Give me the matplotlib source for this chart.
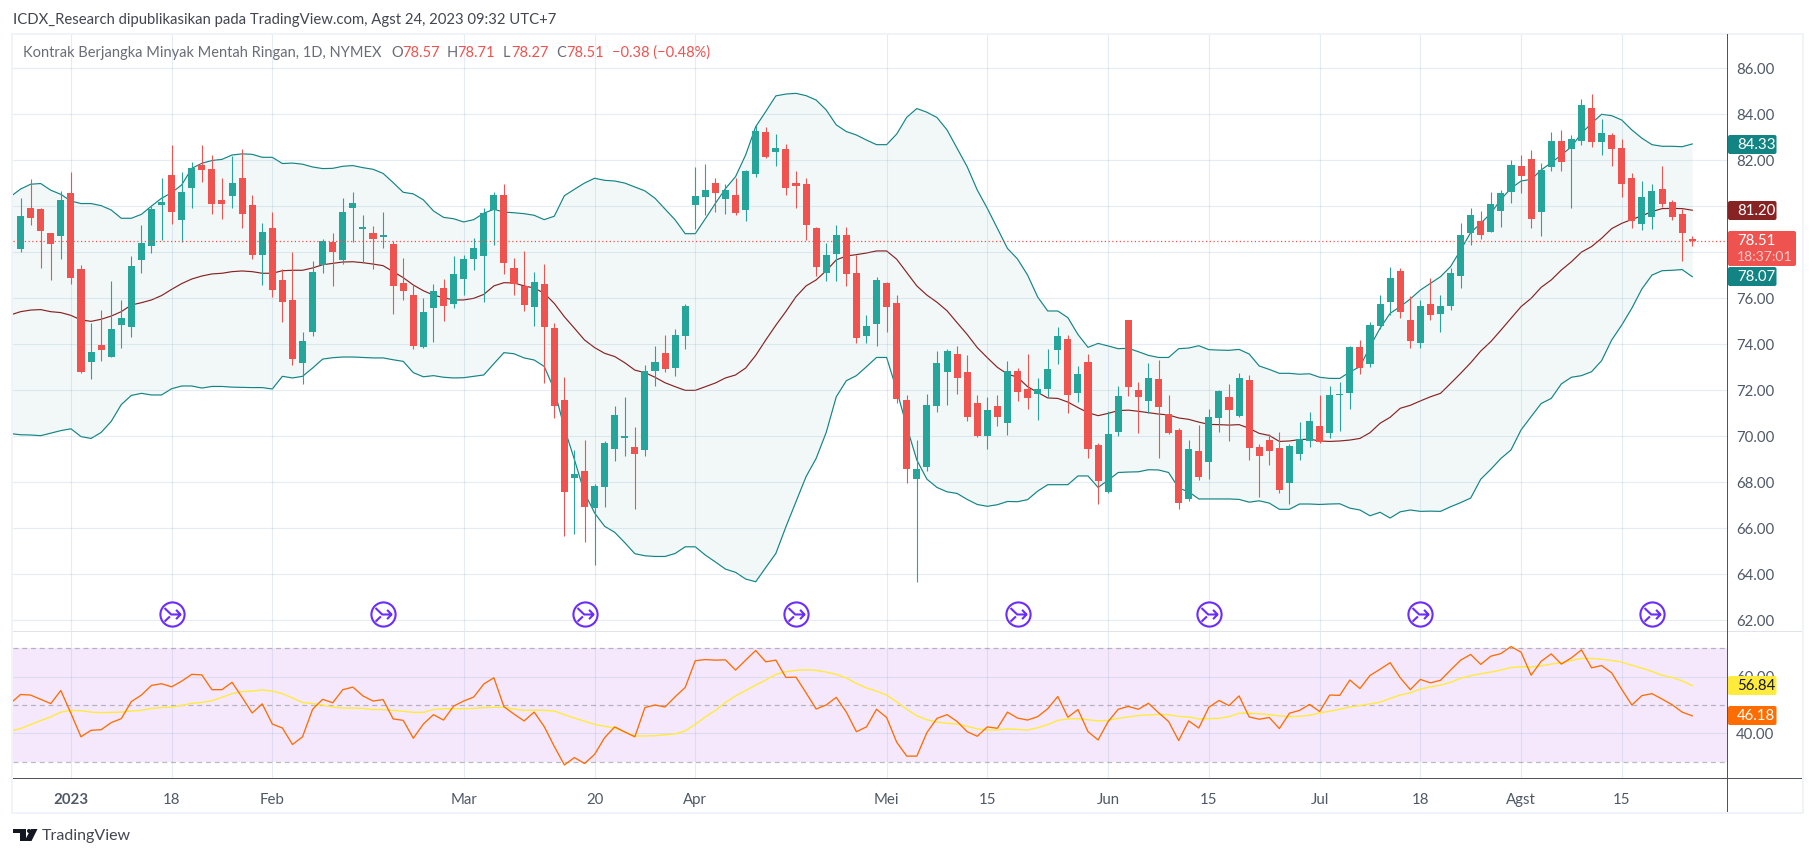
import numpy as np
import matplotlib
matplotlib.use("Agg")
import matplotlib.pyplot as plt
from matplotlib.patches import Rectangle, FancyBboxPatch, Polygon, Circle
from matplotlib.path import Path

W, H = 1815, 857
FONT = "Lato"

# candles, price in USD, one value per daily bar
open_vals = [78.14,79.93,79.88,78.84,78.71,80.58,77.28,73.23,73.97,73.45,
74.84,74.75,77.67,78.27,80.06,81.36,79.41,80.80,81.80,81.62,
80.28,80.45,81.23,80.06,77.88,79.06,76.80,75.93,73.19,74.53,
77.45,78.45,77.67,79.93,79.02,78.84,78.67,78.36,76.67,76.14,
73.88,75.58,76.45,75.75,76.84,77.71,77.84,79.84,80.49,77.32,
76.54,75.62,76.62,74.72,71.59,68.20,68.51,66.90,67.81,69.46,
69.94,69.54,69.41,72.84,73.62,72.97,74.36,80.06,80.41,81.01,
80.32,80.49,79.84,81.41,83.23,82.36,82.49,81.01,80.97,79.06,
77.10,77.93,78.75,77.10,74.36,74.88,76.67,75.80,71.58,68.14,
68.67,71.32,72.80,73.58,72.80,71.45,70.01,71.32,70.58,72.84,
72.06,71.84,72.06,73.75,74.23,71.88,73.23,69.62,67.58,70.19,
75.06,72.01,71.54,72.49,70.97,70.28,67.28,69.36,68.88,70.80,
71.71,70.88,72.45,69.54,69.84,69.49,67.97,69.23,69.80,70.45,
70.14,71.80,71.88,73.88,73.14,74.80,75.84,77.19,75.06,74.06,
75.75,75.32,75.67,76.97,78.84,79.36,78.88,79.80,80.62,81.75,
82.06,79.75,81.71,82.84,82.49,82.84,84.28,82.80,83.10,82.54,
81.23,79.23,79.54,80.75,80.19,79.67,78.57]
high_vals = [80.35,81.19,79.93,78.84,80.65,81.49,77.45,74.93,75.49,76.75,
75.93,77.84,79.19,80.06,81.23,82.67,81.49,81.93,82.67,82.23,
81.23,82.19,82.49,80.49,79.28,79.75,77.28,78.01,74.53,77.62,
78.60,78.84,80.35,80.62,79.62,79.14,79.75,78.49,77.75,76.58,
76.01,76.62,76.84,77.84,77.88,78.62,79.93,80.62,80.97,77.75,
78.06,77.14,77.49,74.94,72.59,69.42,69.86,67.94,69.81,71.33,
71.71,70.41,73.10,73.93,74.41,74.67,75.75,81.71,81.84,81.23,
80.97,81.23,81.58,83.52,83.45,83.14,82.71,81.54,81.23,79.10,
78.41,79.19,79.10,77.88,75.28,76.93,76.71,76.14,71.80,69.84,
71.84,73.71,73.80,73.93,73.54,71.80,71.71,71.80,73.28,72.97,
73.58,72.54,73.80,74.75,74.41,73.06,73.58,69.71,71.10,72.19,
75.06,72.36,73.19,73.32,71.80,70.36,69.84,70.49,71.19,72.00,
72.29,72.74,72.67,69.67,70.10,70.19,69.69,70.62,71.06,71.80,
72.19,72.36,73.93,74.19,74.97,76.14,77.36,77.32,76.10,75.93,
76.88,76.14,77.32,79.28,79.93,79.80,80.62,80.71,82.01,82.23,
82.45,81.88,83.23,83.32,83.10,84.67,84.88,83.80,83.19,82.93,
81.45,81.10,80.97,81.75,80.28,79.88,78.71]
low_vals = [78.03,79.19,77.32,76.80,77.71,76.62,72.75,72.49,73.28,73.45,
73.84,74.32,77.10,77.97,78.54,79.23,78.46,79.93,81.06,79.67,
79.45,79.93,79.06,77.71,76.58,76.06,74.97,73.10,72.28,74.36,
77.10,76.54,77.49,78.46,77.54,77.28,78.19,75.32,75.93,73.80,
73.84,74.10,75.01,75.58,76.14,77.23,75.84,78.32,77.06,76.14,
75.45,74.80,72.32,70.81,65.68,65.77,65.42,64.42,66.94,68.94,
69.14,66.84,69.14,72.19,72.80,72.62,73.80,79.01,79.62,79.75,
79.67,79.62,79.36,81.28,82.10,81.75,80.49,79.93,78.54,76.97,
76.75,76.75,76.54,74.06,74.06,73.93,74.54,71.45,67.97,63.68,
68.49,71.06,71.36,71.84,70.67,69.97,69.45,70.45,70.06,71.54,
71.19,70.71,71.71,73.14,71.01,71.49,69.06,67.06,67.54,70.01,
71.75,70.14,71.01,69.06,70.10,66.84,67.19,68.10,68.14,70.19,
69.80,70.84,68.97,67.36,68.75,67.54,67.06,68.97,69.54,69.71,
69.93,70.23,71.19,72.71,73.01,74.67,75.28,75.14,73.84,73.84,
75.06,74.54,75.49,76.45,78.32,78.58,78.88,79.10,80.14,80.58,
79.06,78.71,81.54,81.54,79.93,82.67,82.58,82.23,81.75,80.41,
79.06,78.97,79.01,79.97,79.41,77.62,78.27]
close_vals = [79.58,79.49,78.93,78.36,80.28,76.88,72.80,73.67,73.75,74.67,
75.14,77.41,78.41,79.88,80.19,79.75,80.62,81.67,81.58,80.10,
80.10,81.01,79.67,77.88,78.88,76.36,75.84,73.36,74.14,77.14,
78.49,78.01,79.75,80.14,79.06,78.58,78.74,76.54,76.32,73.93,
75.41,76.32,75.67,77.06,77.71,78.19,79.71,80.49,77.54,76.62,
75.71,76.71,74.75,71.33,67.59,68.38,66.94,67.86,69.72,70.94,
69.97,69.23,72.84,73.23,72.93,74.41,75.67,80.45,80.71,80.58,
80.71,79.71,81.54,83.28,82.14,82.54,80.80,80.88,79.19,77.36,
77.88,78.75,77.06,74.28,74.80,76.80,75.62,71.62,68.58,68.58,
71.36,73.19,73.71,72.54,70.84,70.01,71.14,70.84,72.84,71.93,
71.67,72.06,72.93,74.36,71.80,72.71,69.45,68.06,70.10,71.75,
72.14,71.71,72.54,71.28,70.14,67.10,69.45,68.23,70.84,71.97,
71.14,72.54,69.49,69.14,69.36,67.67,69.58,69.88,70.67,69.75,
71.80,71.84,73.88,72.97,74.84,75.75,76.88,75.41,74.14,75.67,
75.28,75.67,77.10,78.75,79.62,78.75,80.10,80.58,81.80,81.32,
79.45,81.58,82.84,81.93,82.93,84.41,82.80,83.19,82.49,80.97,
79.36,80.41,80.67,80.10,79.54,78.84,78.51]

# Bollinger bands, first value sits one bar left of the first candle
bb_upper = [80.42,80.75,80.96,80.99,80.70,80.52,80.23,80.12,80.12,80.03,79.84,
79.48,79.48,79.65,80.01,80.35,80.59,80.93,81.65,81.87,81.99,
82.04,82.23,82.28,82.26,82.13,82.13,81.86,81.88,81.83,81.71,
81.64,81.65,81.74,81.77,81.68,81.61,81.43,81.03,80.61,80.54,
80.28,79.80,79.52,79.46,79.32,79.42,79.70,79.87,79.75,79.72,
79.68,79.61,79.42,79.57,80.46,80.74,81.01,81.22,81.13,81.10,
81.01,80.84,80.67,80.35,79.88,79.41,78.81,78.81,79.46,80.13,
80.77,81.29,82.23,83.46,84.12,84.80,84.88,84.91,84.81,84.62,
84.19,83.54,83.25,83.10,82.88,82.68,82.68,83.14,83.87,84.25,
84.09,83.86,83.32,82.52,81.72,80.71,79.91,79.04,78.17,77.71,
77.01,76.06,75.45,75.45,75.16,74.43,73.87,74.04,73.93,73.81,
73.83,73.68,73.52,73.43,73.43,73.81,73.84,73.94,73.77,73.75,
73.74,73.78,73.58,73.06,72.91,72.74,72.74,72.70,72.72,72.57,
72.52,72.52,72.80,73.03,73.90,74.70,75.35,75.64,75.97,76.36,
76.65,76.94,77.38,78.10,78.86,79.26,79.70,80.30,80.78,81.10,
81.17,81.58,81.90,82.23,82.59,83.17,83.61,84.00,83.94,83.75,
83.32,82.96,82.68,82.61,82.61,82.59,82.71]
bb_mid = [75.28,75.42,75.49,75.51,75.42,75.38,75.26,75.06,75.00,75.09,75.23,
75.42,75.71,75.81,75.93,76.12,76.39,76.64,76.84,76.97,77.06,
77.09,77.16,77.19,77.16,77.09,77.09,77.20,77.22,77.22,77.32,
77.46,77.52,77.58,77.59,77.55,77.49,77.42,77.16,76.90,76.58,
76.33,76.14,76.03,75.93,75.93,76.00,76.17,76.54,76.68,76.67,
76.54,76.45,76.22,75.78,75.20,74.70,74.19,73.86,73.61,73.47,
73.20,72.88,72.77,72.57,72.33,72.16,72.00,72.00,72.16,72.32,
72.54,72.67,72.97,73.52,74.19,74.83,75.43,76.07,76.54,76.80,
77.20,77.67,77.84,77.90,77.97,78.06,78.06,77.70,77.12,76.54,
76.14,75.83,75.46,74.94,74.43,73.86,73.42,73.00,72.71,72.57,
72.16,71.91,71.67,71.65,71.49,71.25,71.03,70.90,71.00,71.12,
71.14,71.09,71.03,70.97,70.93,70.80,70.74,70.62,70.52,70.51,
70.49,70.51,70.35,70.13,70.04,69.78,69.80,69.86,69.88,69.80,
69.78,69.80,69.84,69.91,70.16,70.57,70.83,71.22,71.35,71.54,
71.72,71.87,72.30,72.74,73.20,73.71,74.12,74.62,75.13,75.64,
76.00,76.48,76.80,77.23,77.59,78.01,78.25,78.61,79.03,79.26,
79.43,79.59,79.77,79.90,79.91,79.90,79.83]
bb_lower = [70.12,70.07,70.06,70.03,70.14,70.25,70.33,69.99,69.91,70.17,70.65,
71.38,71.78,71.87,71.80,71.80,72.07,72.19,72.19,72.10,72.17,
72.17,72.14,72.13,72.12,72.12,72.06,72.61,72.54,72.61,72.97,
73.36,73.42,73.45,73.45,73.43,73.41,73.41,73.33,73.26,72.77,
72.59,72.64,72.57,72.54,72.55,72.61,72.67,73.16,73.64,73.59,
73.41,73.32,73.04,72.03,70.36,68.99,67.54,66.67,66.09,65.83,
65.38,64.90,64.81,64.78,64.78,64.91,65.20,65.20,64.84,64.54,
64.23,64.09,63.80,63.68,64.30,64.91,66.07,67.16,68.25,69.04,
70.17,71.72,72.42,72.64,73.03,73.43,73.43,72.01,70.42,68.97,
68.14,67.78,67.59,67.52,67.26,67.04,66.96,67.03,67.17,67.16,
67.25,67.62,67.90,67.90,67.90,68.28,68.28,67.78,68.10,68.43,
68.45,68.46,68.55,68.54,68.43,67.75,67.59,67.28,67.28,67.28,
67.28,67.26,67.14,67.20,67.10,66.83,66.83,67.06,67.06,67.04,
67.06,67.07,66.88,66.80,66.55,66.70,66.45,66.72,66.80,66.74,
66.75,66.74,66.94,67.12,67.32,68.14,68.57,69.04,69.41,70.28,
70.86,71.43,71.65,72.28,72.57,72.64,72.81,73.29,74.19,74.84,
75.57,76.41,77.01,77.20,77.22,77.25,76.94]

# RSI and its moving average
rsi_vals = [50.6,53.7,53.5,52.0,50.5,55.1,47.1,38.8,41.1,41.3,43.8,
45.2,51.2,53.5,56.9,57.5,56.4,58.4,60.8,60.6,55.4,
55.4,58.0,52.7,47.2,50.4,43.3,41.9,36.1,38.8,48.5,
52.0,50.8,55.4,56.3,53.2,51.4,51.9,45.1,44.6,38.3,
43.3,46.6,44.7,49.6,51.4,52.8,57.4,59.6,49.4,46.8,
44.4,47.5,42.4,35.4,28.9,31.5,29.4,32.6,38.5,42.3,
40.5,38.8,49.1,50.0,49.3,52.9,56.2,65.6,66.0,65.8,
65.9,62.3,65.8,69.2,65.2,65.8,59.7,59.8,54.3,48.6,
50.0,52.7,47.5,40.6,42.3,48.5,45.6,36.9,32.0,32.0,
40.3,45.3,46.6,44.2,40.6,39.0,42.3,41.8,47.5,45.4,
44.7,45.9,48.7,53.0,45.7,48.4,40.6,37.7,44.2,48.5,
49.5,48.5,50.6,47.3,44.2,37.5,44.4,41.9,49.2,51.6,
49.8,53.2,45.8,45.0,45.6,41.7,47.1,48.1,50.2,47.7,
53.5,53.4,58.8,55.8,60.4,62.6,64.9,59.6,55.4,59.0,
57.8,58.7,62.3,65.8,67.8,64.3,67.2,68.1,70.6,68.6,
60.5,65.4,68.0,64.4,66.6,69.4,63.1,63.9,61.3,55.5,
50.0,53.3,54.0,52.1,50.1,47.5,46.18]
rsi_ma = [40.8,41.7,43.1,44.5,45.8,47.5,48.1,48.0,47.5,47.3,47.4,
47.5,47.9,48.1,48.8,49.1,49.3,49.8,50.6,50.9,51.5,
52.7,54.0,54.7,54.9,55.3,54.9,54.0,52.5,50.9,50.5,
50.0,49.3,48.9,48.9,48.8,48.4,48.4,48.1,47.8,47.4,
47.4,48.4,48.7,48.7,48.7,48.8,49.1,49.2,49.2,48.6,
48.1,48.2,48.1,47.9,46.6,45.4,44.3,43.2,42.5,41.9,
40.5,39.1,39.1,39.2,39.5,39.8,40.9,43.2,45.8,48.1,
50.9,53.2,55.1,57.0,58.8,60.8,61.7,62.2,62.4,62.2,
61.6,60.8,59.5,57.6,56.0,54.9,53.5,51.1,48.5,46.2,
44.8,44.0,43.6,43.3,42.5,41.6,41.2,41.2,41.6,41.4,
41.2,42.0,43.1,44.6,45.1,45.2,44.8,44.4,44.6,45.3,
45.8,46.3,46.5,46.7,46.6,46.0,45.8,45.1,45.2,45.3,
45.9,47.1,47.1,46.9,46.6,46.2,45.9,46.0,46.4,47.2,
47.8,48.5,49.3,49.8,50.4,51.0,52.3,53.5,54.3,55.6,
56.4,57.0,58.0,59.4,60.3,61.0,61.6,62.3,63.2,63.5,
63.4,63.8,64.4,64.9,65.7,66.4,66.4,66.1,65.7,65.1,
64.0,63.0,61.8,60.5,59.7,58.5,56.84]

last_price = 78.51
price_ticks = [62,64,66,68,70,72,74,76,78,80,82,84,86]
hidden_ticks = [78, 80]  # sit under the value badges
rsi_ticks = [40,60]
date_bars = [5,15,25,44,57,67,86,96,108,118,129,139,149,159]
date_labels = ["2023","18","Feb","Mar","20","Apr","Mei","15","Jun","15","Jul","18","Agst","15"]
rollover_bars = [15,36,56,77,99,118,139,162]

UP = "#26A69A"
DOWN = "#EF5350"
TEAL = "#138484"
MAROON = "#872323"
PURPLE = "#6A2CFF"

PANE_L, PANE_R = 13, 1727.5
MAIN_T, MAIN_B = 34, 631
RSI_B = 778
FRAME_R, FRAME_B = 1802, 812


def fx(x):
    return x / W


def fy(y):
    return 1 - y / H


def pane(top, bottom):
    return fig.add_axes([fx(PANE_L), fy(bottom), fx(PANE_R - PANE_L), (bottom - top) / H])


def px_text(x, y, s, **kw):
    kw.setdefault("family", FONT)
    kw.setdefault("va", "center")
    return fig.text(fx(x), fy(y), s, **kw)


def px_rect(x0, y0, x1, y1, color, **kw):
    fig.add_artist(Rectangle((fx(x0), fy(y1)), fx(x1 - x0), (y1 - y0) / H,
                             transform=fig.transFigure, facecolor=color, edgecolor="none", **kw))


def badge(y0, y1, color, x1=1776.5):
    fig.add_artist(FancyBboxPatch((1728, y0), x1 - 1728, y1 - y0, boxstyle="round,pad=0,rounding_size=2",
                                  transform=px_trans, facecolor=color, edgecolor="none", zorder=2))


fig = plt.figure(figsize=(W / 100, H / 100), dpi=100, facecolor="white")
px_trans = matplotlib.transforms.Affine2D().scale(1, -1).translate(0, H)

bars = np.arange(len(close_vals))
line_bars = np.arange(-1, len(close_vals))
opens = np.array(open_vals)
closes = np.array(close_vals)
colors = [UP if c >= o else DOWN for o, c in zip(opens, closes)]

# main pane
ax = pane(MAIN_T, MAIN_B)
ax.set_xlim(-0.75, 169.5)
ax.set_ylim(61.54, 87.49)
ax.fill_between(line_bars, bb_lower, bb_upper, color=TEAL, alpha=0.05, lw=0, zorder=1)
ax.plot(line_bars, bb_upper, color=TEAL, lw=0.85, zorder=2)
ax.plot(line_bars, bb_lower, color=TEAL, lw=0.85, zorder=2)
ax.plot(line_bars, bb_mid, color=MAROON, lw=0.85, zorder=2)
ax.vlines(bars, low_vals, high_vals, colors=colors, lw=0.8, zorder=3)
ax.bar(bars, np.maximum(np.abs(closes - opens), 0.06), bottom=np.minimum(opens, closes),
       width=0.7, color=colors, lw=0, zorder=4)
ax.axhline(last_price, color=DOWN, lw=0.9, ls=(0, (1, 2)), zorder=5)
ax.set_yticks(price_ticks)
ax.set_yticklabels(["" if v in hidden_ticks else f"{v:.2f}" for v in price_ticks])

# rollover marks, circle and merge arrow
arrow = Path([(-0.62, 0.5), (-0.1, 0.0), (0.62, 0.0), (0.28, 0.36), (0.62, 0.0), (0.28, -0.36),
              (-0.62, -0.55), (-0.2, -0.15)],
             [Path.MOVETO, Path.LINETO, Path.LINETO, Path.MOVETO, Path.LINETO, Path.LINETO,
              Path.MOVETO, Path.LINETO])
rollover_y = [62.27] * len(rollover_bars)
ax.plot(rollover_bars, rollover_y, ls="", marker="o", ms=17.4, mfc="white", mec=PURPLE, mew=1.5, zorder=6)
ax.plot(rollover_bars, rollover_y, ls="", marker=arrow, ms=11.5, mfc="none", mec=PURPLE, mew=1.5, zorder=7)

# RSI pane
ax2 = pane(MAIN_B, RSI_B)
ax2.set_xlim(-0.75, 169.5)
ax2.set_ylim(24.3, 76.06)
ax2.axhspan(30, 70, color="#F5E8FD", lw=0, zorder=1)
for level in [30, 50, 70]:
    ax2.axhline(level, color="#787B86", alpha=0.5, lw=0.9, ls=(0, (4, 3)), zorder=4)
ax2.plot(line_bars, rsi_ma, color="#FFEB3B", lw=1.0, zorder=5)
ax2.plot(line_bars, rsi_vals, color="#FF6D00", lw=0.95, zorder=6)
ax2.set_yticks(rsi_ticks)
ax2.set_yticklabels([f"{v:.2f}" for v in rsi_ticks])
ax2.set_xticks(date_bars)
ax2.set_xticklabels(date_labels)
ax2.get_xticklabels()[0].set_fontweight("bold")

for a in (ax, ax2):
    a.set_xticks(date_bars)
    a.grid(True, color="#7FA6C9", alpha=0.2, lw=0.8, zorder=3)
    a.set_axisbelow(False)
    a.yaxis.tick_right()
    a.tick_params(axis="y", length=0, pad=6, labelsize=10.8, labelcolor="#4F5966")
    a.tick_params(axis="x", length=0, pad=11, labelsize=10.8, labelcolor="#4F5966")
    for lab in a.get_xticklabels() + a.get_yticklabels():
        lab.set_family(FONT)
    for s in a.spines.values():
        s.set_visible(False)
ax.tick_params(axis="x", labelbottom=False)

# frame and axis rules
for x0, y0, x1, y1 in [(11, 33, FRAME_R + 2, 35), (11, 33, 13, FRAME_B + 2),
                       (11, FRAME_B, FRAME_R + 2, FRAME_B + 2), (FRAME_R, 33, FRAME_R + 2, FRAME_B + 2)]:
    px_rect(x0, y0, x1, y1, "#F0F3FA")
px_rect(PANE_L, 630.5, FRAME_R, 632, "#E0E3EB")
px_rect(PANE_L, 777.5, FRAME_R, 779, "#50535E")
px_rect(1727, 34, 1728, FRAME_B, "#50535E")

# value badges on the price scale
badge(135, 154, TEAL)
badge(201, 220, MAROON)
badge(231, 266, DOWN, x1=1796)
badge(267, 286, TEAL)
badge(676, 695, "#FFEB3B")
badge(706, 725, "#FF6D00")
for y, s, c in [(145, "84.33", "white"), (211, "81.20", "white"), (241, "78.51", "white"),
                (277, "78.07", "white"), (686, "56.84", "#131722"), (716, "46.18", "white")]:
    px_text(1737, y, s, color=c, fontsize=10.8, zorder=3)
px_text(1737, 257, "18:37:01", color="#FBC9C8", fontsize=10.1, zorder=3)

# header texts
px_text(13, 20, "ICDX_Research dipublikasikan pada TradingView.com, Agst 24, 2023 09:32 UTC+7",
        color="#434651", fontsize=10.75)
px_text(23, 53, "Kontrak Berjangka Minyak Mentah Ringan, 1D, NYMEX", color="#6A6D78", fontsize=10.5)
for x, s in [(391, "O"), (447, "H"), (503, "L"), (556.5, "C")]:
    px_text(x, 53, s, color="#6A6D78", fontsize=10.5)
for x, s in [(402, "78.57"), (457, "78.71"), (511, "78.27"), (566, "78.51"), (612, "\u22120.38 (\u22120.48%)")]:
    px_text(x, 53, s, color=DOWN, fontsize=10.5)

# TradingView logo
logo = "#131722"
px_rect(13, 829, 26, 833, logo)
px_rect(20, 829, 26, 841, logo)
fig.add_artist(Circle((29, 831), 2, transform=px_trans, facecolor=logo, edgecolor="none"))
fig.add_artist(Polygon([(31, 829), (37.5, 829), (31.5, 841), (24.5, 841)], closed=True,
                       transform=px_trans, facecolor=logo, edgecolor="none"))
px_text(42, 836, "TradingView", color="#434651", fontsize=11.5)

fig.savefig("out.png", dpi=100, facecolor="white")
